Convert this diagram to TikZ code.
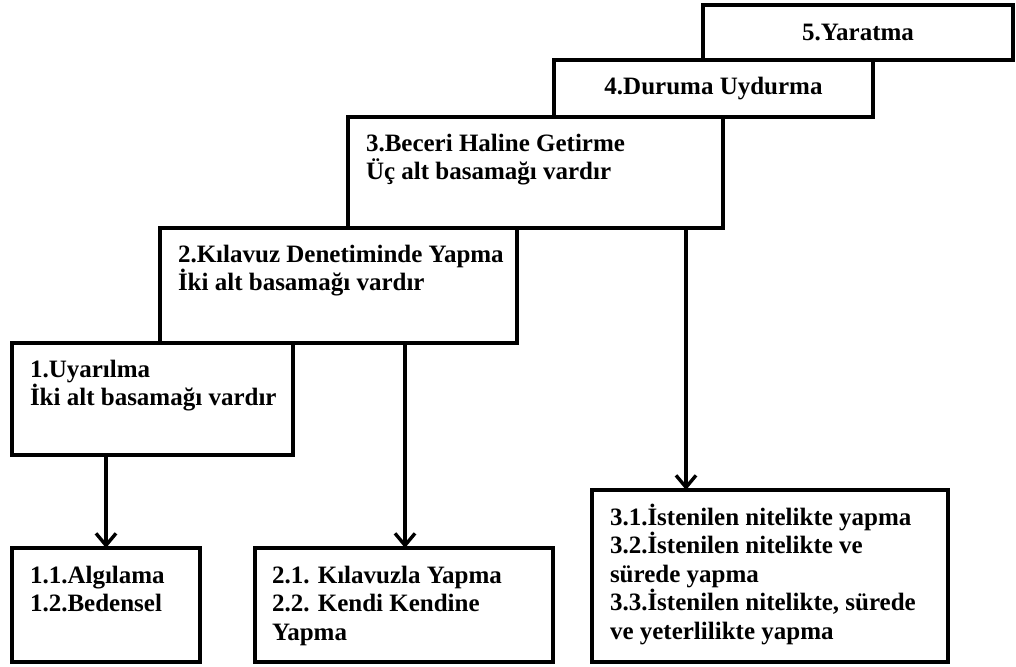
\documentclass[tikz,border=0pt]{standalone}
\usepackage{fontspec}
\setmainfont{Liberation Serif}
\usetikzlibrary{arrows.meta,calc}
\tikzset{
  boxnode/.style={draw, line width=3.6pt, rectangle, inner sep=0pt, outer sep=0pt, anchor=north west},
  txt/.style={inner sep=0pt, outer sep=0pt, align=left, anchor=north west,
    font=\fontsize{25}{28.5}\selectfont\bfseries},
  ctxt/.style={inner sep=0pt, font=\fontsize{25}{28.5}\selectfont\bfseries},
  arr/.style={line width=3.6pt, -{Straight Barb[length=12pt,width=20pt,line width=3.4pt]}}
}
\newcommand{\fl}{\rule{0pt}{22pt}}
\begin{document}
\begin{tikzpicture}[x=1pt,y=-1pt]
\useasboundingbox (0,0) rectangle (1016,666);
% boxes
\node[boxnode, minimum width=310pt, minimum height=55pt] (b5) at (703,5) {};
\node[boxnode, minimum width=319pt, minimum height=57pt] (b4) at (554,60) {};
\node[boxnode, minimum width=375pt, minimum height=111pt] (b3) at (348,117) {};
\node[boxnode, minimum width=357pt, minimum height=115pt] (b2) at (160,228) {};
\node[boxnode, minimum width=281pt, minimum height=112pt] (b1) at (12,343) {};
\node[boxnode, minimum width=188pt, minimum height=114pt] (b11) at (12,548) {};
\node[boxnode, minimum width=298pt, minimum height=114pt] (b21) at (255,548) {};
\node[boxnode, minimum width=356pt, minimum height=172pt] (b31) at (592,490) {};
% texts
\node[ctxt] (t5) at (b5.center) {5.Yaratma};
\node[ctxt] (t4) at (b4.center) {4.Duruma Uydurma};
\node[txt] (t3) at ($(b3.north west)+(18,12)$) {\fl 3.Beceri Haline Getirme\\Üç alt basamağı vardır};
\node[txt] (t2) at ($(b2.north west)+(18,12)$) {\fl 2.Kılavuz Denetiminde Yapma\\İki alt basamağı vardır};
\node[txt] (t1) at ($(b1.north west)+(18,12)$) {\fl 1.Uyarılma\\İki alt basamağı vardır};
\node[txt] (t11) at ($(b11.north west)+(18,13)$) {\fl 1.1.Algılama\\1.2.Bedensel};
\node[txt] (t21) at ($(b21.north west)+(17,13)$) {\fl 2.1. Kılavuzla Yapma\\2.2. Kendi Kendine\\Yapma};
\node[txt] (t31) at ($(b31.north west)+(18,13)$) {\fl 3.1.İstenilen nitelikte yapma\\3.2.İstenilen nitelikte ve\\sürede yapma\\3.3.İstenilen nitelikte, sürede\\ve yeterlilikte yapma};
% arrows
\draw[arr] (106,0 |- b1.south) -- (106,0 |- b11.north);
\draw[arr] (405,0 |- b2.south) -- (405,0 |- b21.north);
\draw[arr] (686,0 |- b3.south) -- (686,0 |- b31.north);
\end{tikzpicture}
\end{document}
